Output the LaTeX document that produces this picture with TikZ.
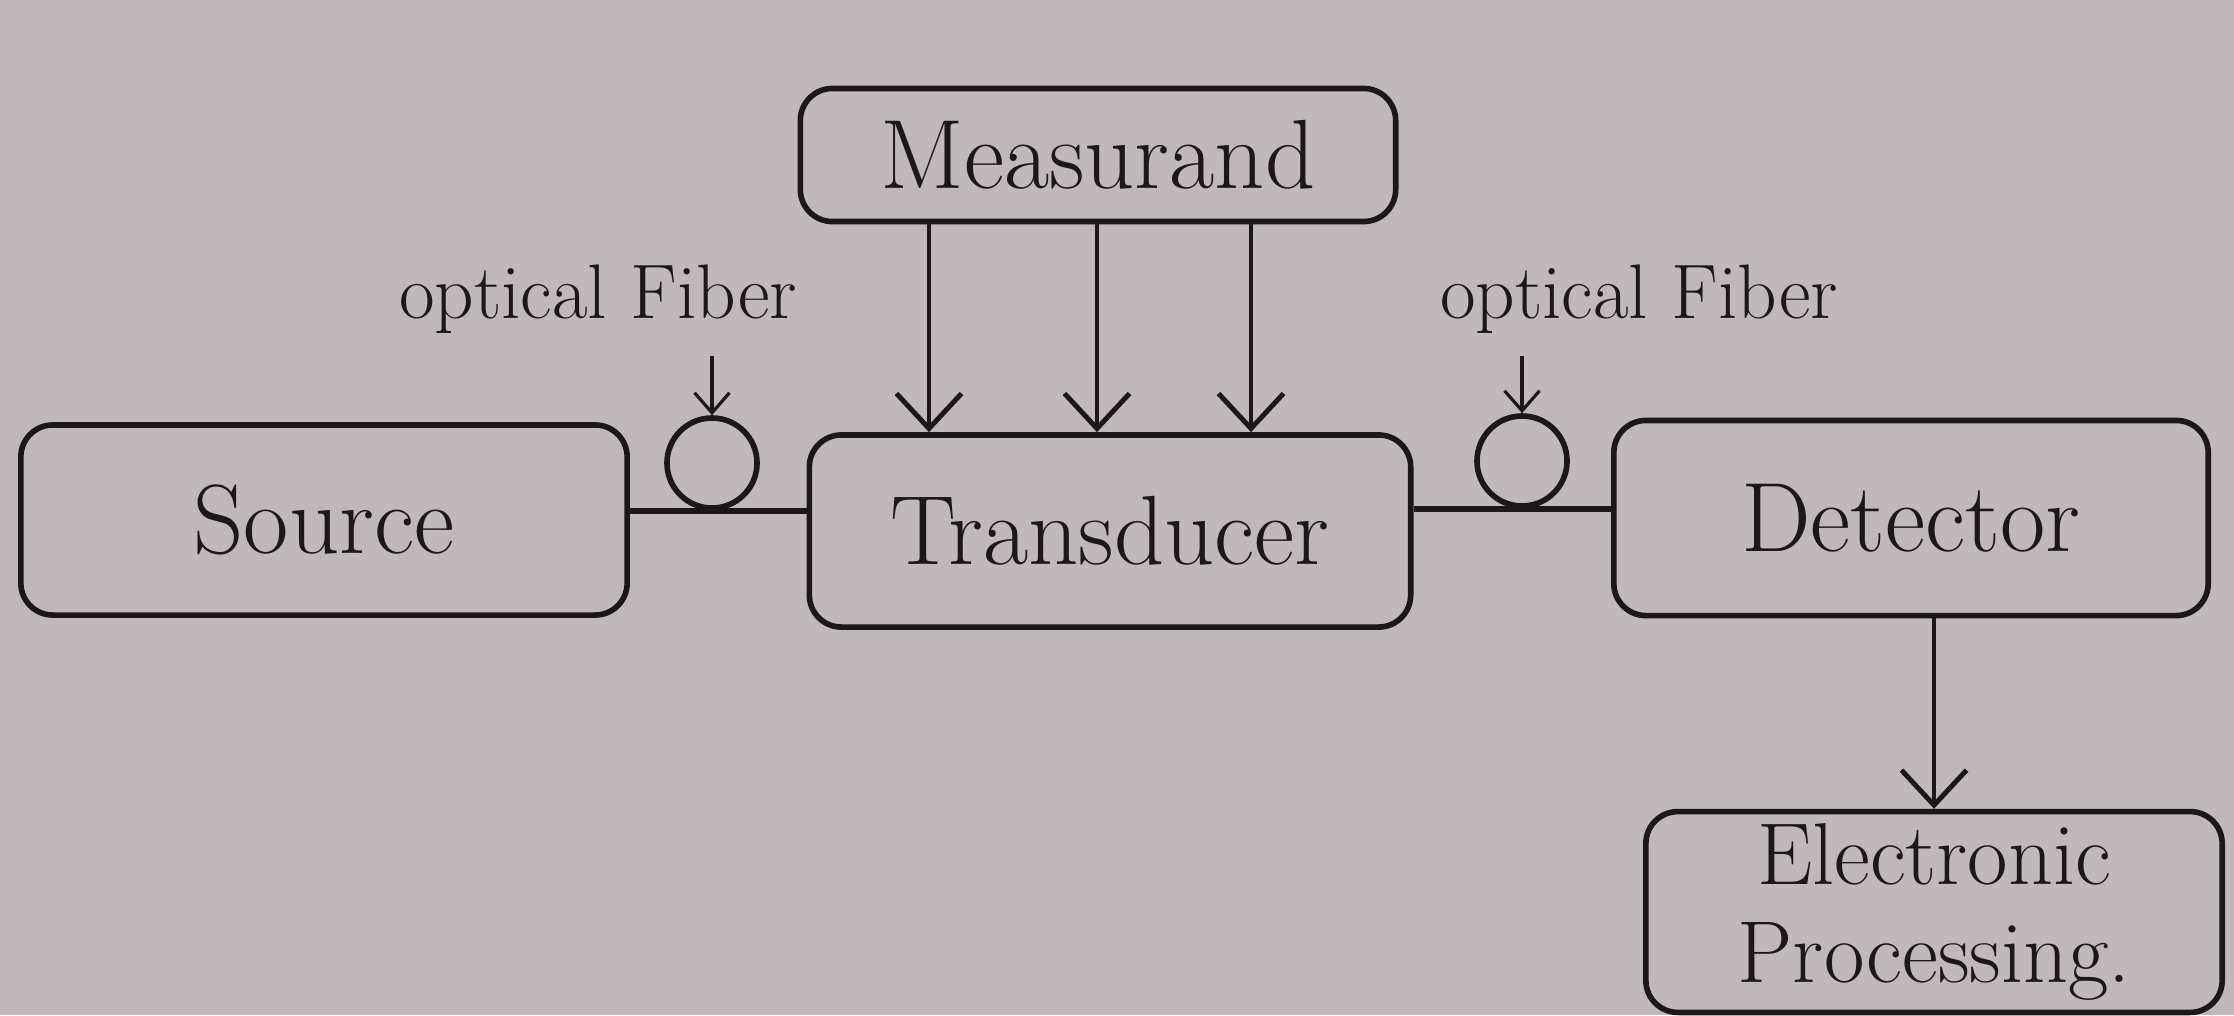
\documentclass[tikz,border=0pt]{standalone}
\usepackage{tikz}
\usetikzlibrary{arrows.meta,positioning,calc}
\usepackage{xcolor}
\definecolor{paper}{RGB}{192,184,187}
\definecolor{ink}{RGB}{28,24,26}

\tikzset{
  blockbox/.style={draw=ink, line width=1.6pt, rounded corners=0.32cm, text=ink,
    font=\fontsize{28}{32}\selectfont, align=center},
  fiberring/.style={draw=ink, line width=1.6pt, circle, minimum size=0.9cm, inner sep=0pt},
  flow/.style={draw=ink, line width=1.4pt, -{Straight Barb[length=3.5mm,width=6.5mm]}},
  hint/.style={draw=ink, line width=0.9pt, -{Straight Barb[length=2mm,width=3.5mm]}},
  fiberlabel/.style={text=ink, font=\fontsize{22}{26}\selectfont, inner sep=2pt}
}

\begin{document}
\begin{tikzpicture}[x=0.01cm, y=-0.01cm]
            % Paper
            \useasboundingbox (0,0) rectangle (2234,1015);
            \fill[paper] (0,0) rectangle (2234,1015);

            % Blocks
            \node[blockbox, minimum width=5.95cm, minimum height=1.33cm] (meas) at (1098,155) {Measurand};
            \node[blockbox, minimum width=6.06cm, minimum height=1.9cm] (src) at (324,520) {Source};
            \node[blockbox, minimum width=6.01cm, minimum height=1.92cm] (trans) at (1110,531) {Transducer};
            \node[blockbox, minimum width=5.94cm, minimum height=1.95cm] (det) at (1911,518) {Detector};
            \node[blockbox, font=\fontsize{25}{28}\selectfont, minimum width=5.76cm, minimum height=1.86cm] (proc) at (1934,912) {Electronic\\Processing.};

            % Fiber rings
            \node[fiberring] (fib1) at (712,463) {};
            \node[fiberring] (fib2) at (1522,461) {};

            % Fiber links
            \draw[draw=ink, line width=1.6pt] (src.east |- fib1.south) -- (trans.west |- fib1.south);
            \draw[draw=ink, line width=1.6pt] (trans.east |- fib2.south) -- (det.west |- fib2.south);

            % Measurand acting on the transducer
            \foreach \x in {929,1097,1251}
                \draw[flow] (\x,0 |- meas.south) -- (\x,0 |- trans.north);

            % Detector output
            \draw[flow] (proc.north |- det.south) -- (proc.north);

            % Labels
            \node[fiberlabel] (lab1) at (598,299) {optical Fiber};
            \node[fiberlabel] (lab2) at (1639,299) {optical Fiber};
            \draw[hint] (fib1.north |- 0,356) -- (fib1.north);
            \draw[hint] (fib2.north |- 0,356) -- (fib2.north);
        \end{tikzpicture}
\end{document}
